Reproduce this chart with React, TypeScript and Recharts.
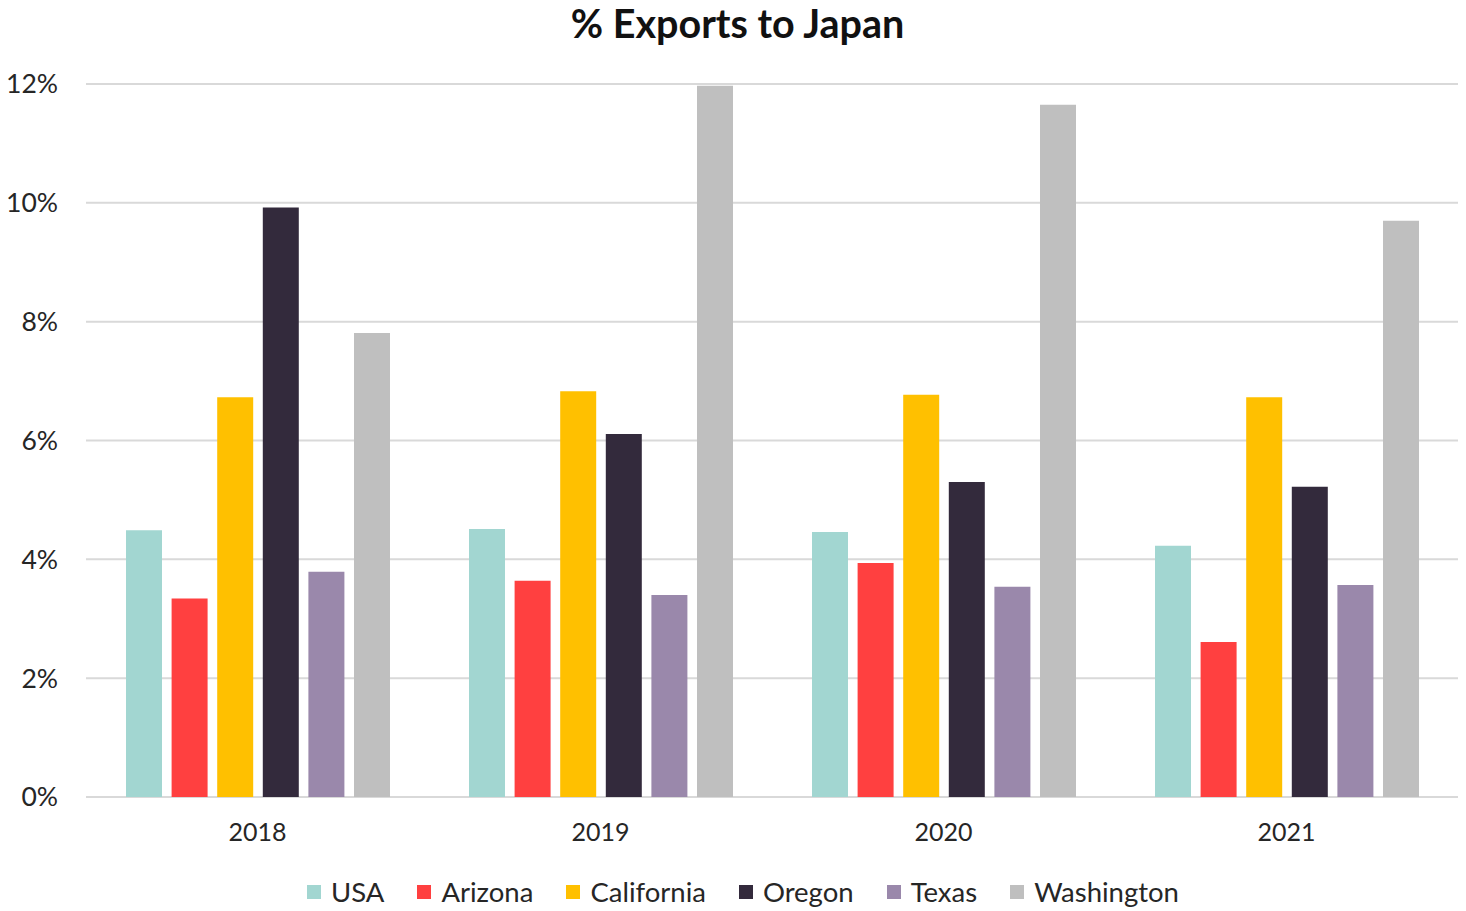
import { Bar, BarChart, CartesianGrid, Legend, XAxis, YAxis } from "recharts";

const years = ["2018", "2019", "2020", "2021"];
const usa = [4.49, 4.51, 4.46, 4.23];
const arizona = [3.34, 3.64, 3.94, 2.61];
const california = [6.73, 6.83, 6.77, 6.73];
const oregon = [9.92, 6.11, 5.3, 5.22];
const texas = [3.79, 3.4, 3.54, 3.57];
const washington = [7.81, 11.97, 11.65, 9.7];
const yTicks = [0, 2, 4, 6, 8, 10, 12];

const series = [
  { key: "USA", values: usa, color: "#a2d6d1" },
  { key: "Arizona", values: arizona, color: "#ff4040" },
  { key: "California", values: california, color: "#ffc000" },
  { key: "Oregon", values: oregon, color: "#332a3c" },
  { key: "Texas", values: texas, color: "#9a88ab" },
  { key: "Washington", values: washington, color: "#bfbfbf" },
];

const data = years.map((year, i) => {
  const row: Record<string, string | number> = { year };
  series.forEach((s) => {
    row[s.key] = s.values[i];
  });
  return row;
});

const font = "Lato, 'Noto Sans', sans-serif";
const textColor = "#262626";

function LegendRow() {
  return (
    <div
      style={{
        display: "flex",
        justifyContent: "center",
        alignItems: "center",
        gap: 33,
        paddingTop: 8,
        paddingLeft: 28,
        fontFamily: font,
        fontSize: 27.5,
        color: textColor,
      }}
    >
      {series.map((s) => (
        <div key={s.key} style={{ display: "flex", alignItems: "center", gap: 10 }}>
          <span style={{ width: 14, height: 14, background: s.color, display: "inline-block" }} />
          <span>{s.key}</span>
        </div>
      ))}
    </div>
  );
}

export default function App() {
  return (
    <div style={{ position: "absolute", left: 0, top: 0, width: 1466, height: 911, background: "#fff" }}>
      <div
        style={{
          position: "absolute",
          top: -1,
          left: 0,
          width: 1475,
          textAlign: "center",
          fontFamily: font,
          fontWeight: 700,
          fontSize: 39.5,
          color: "#111",
        }}
      >
        % Exports to Japan
      </div>
      <BarChart
        width={1466}
        height={911}
        data={data}
        margin={{ top: 84, right: 8, left: 0, bottom: 0 }}
        barSize={36}
        barGap={9.6}
      >
        <CartesianGrid vertical={false} stroke="#d9d9d9" strokeWidth={2} />
        <XAxis
          dataKey="year"
          axisLine={false}
          tickLine={false}
          tickSize={0}
          tickMargin={26}
          height={70}
          tick={{ fill: textColor, fontSize: 25, fontFamily: font }}
        />
        <YAxis
          domain={[0, 12]}
          ticks={yTicks}
          width={86}
          axisLine={false}
          tickLine={false}
          tickSize={0}
          tickMargin={28}
          tickFormatter={(v: number) => `${v}%`}
          tick={{ fill: textColor, fontSize: 26.5, fontFamily: font }}
        />
        <Legend verticalAlign="bottom" height={44} content={() => <LegendRow />} />
        {series.map((s) => (
          <Bar key={s.key} dataKey={s.key} fill={s.color} isAnimationActive={false} />
        ))}
      </BarChart>
    </div>
  );
}
